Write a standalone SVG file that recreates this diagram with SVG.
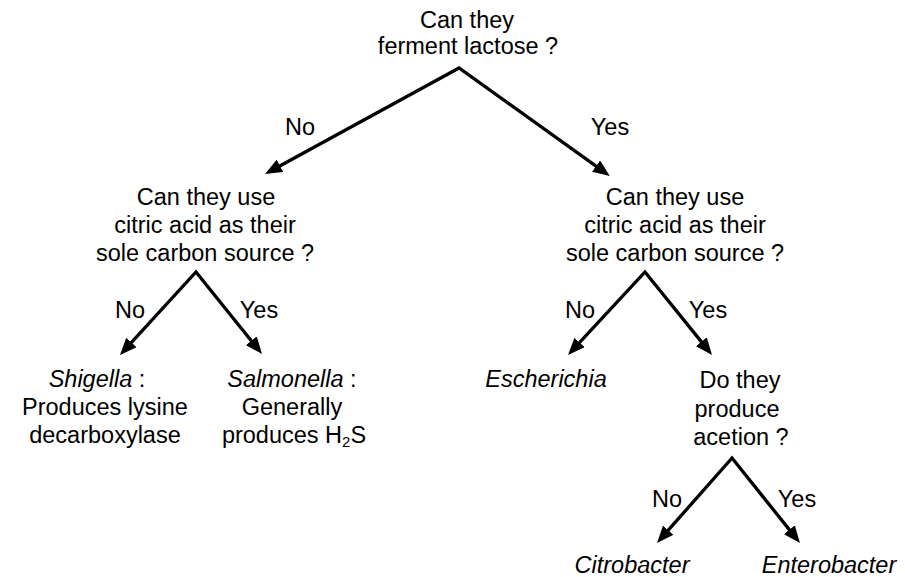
<svg xmlns="http://www.w3.org/2000/svg" width="905" height="577" viewBox="0 0 905 577">
<style>
text{font-family:"Liberation Sans",Arial,sans-serif;font-size:23.5px;fill:#000;text-anchor:middle}
.i{font-style:italic}
.c{fill:none;stroke:#000;stroke-width:3.3;stroke-linejoin:miter}
.sub{font-size:15px}
</style>
<defs>
<marker id="ah" markerUnits="userSpaceOnUse" markerWidth="18" markerHeight="14" refX="6" refY="7" orient="auto-start-reverse" viewBox="0 0 18 14">
<path d="M0,0 L17,7 L0,14 z" fill="#000"/>
</marker>
</defs>
<rect width="905" height="577" fill="#fff"/>
<g id="connectors">
<path class="c" d="M274.7,168.7 L459,68 L600.9,169.6" marker-start="url(#ah)" marker-end="url(#ah)"/>
<path class="c" d="M127.4,346.9 L196,272 L255.1,345.4" marker-start="url(#ah)" marker-end="url(#ah)"/>
<path class="c" d="M575.5,346.9 L645,272 L705.1,346.4" marker-start="url(#ah)" marker-end="url(#ah)"/>
<path class="c" d="M664.3,534.7 L732,458 L793.1,534.4" marker-start="url(#ah)" marker-end="url(#ah)"/>
</g>
<g id="labels">
<text x="300" y="135">No</text>
<text x="610" y="135">Yes</text>
<text x="130" y="318">No</text>
<text x="259" y="318">Yes</text>
<text x="580" y="318">No</text>
<text x="708" y="318">Yes</text>
<text x="667" y="507">No</text>
<text x="797" y="507">Yes</text>
</g>
<g id="root">
<text x="467" y="28">Can they</text>
<text x="468" y="54">ferment lactose ?</text>
</g>
<g id="q-left">
<text x="206" y="205">Can they use</text>
<text x="205" y="233">citric acid as their</text>
<text x="205" y="261">sole carbon source ?</text>
</g>
<g id="q-right">
<text x="675" y="205">Can they use</text>
<text x="675" y="233">citric acid as their</text>
<text x="675" y="261">sole carbon source ?</text>
</g>
<g id="shigella">
<text x="97" y="387"><tspan class="i">Shigella</tspan> :</text>
<text x="105" y="415">Produces lysine</text>
<text x="105" y="443">decarboxylase</text>
</g>
<g id="salmonella">
<text x="292" y="387"><tspan class="i">Salmonella</tspan> :</text>
<text x="292" y="415">Generally</text>
<text x="294" y="443">produces H<tspan class="sub" dy="4">2</tspan><tspan dy="-4">S</tspan></text>
</g>
<g id="escherichia">
<text class="i" x="546" y="387">Escherichia</text>
</g>
<g id="q-acetion">
<text x="740" y="388">Do they</text>
<text x="737" y="417">produce</text>
<text x="741" y="445">acetion ?</text>
</g>
<g id="citrobacter">
<text class="i" x="632" y="573">Citrobacter</text>
</g>
<g id="enterobacter">
<text class="i" x="829" y="573">Enterobacter</text>
</g>
</svg>
